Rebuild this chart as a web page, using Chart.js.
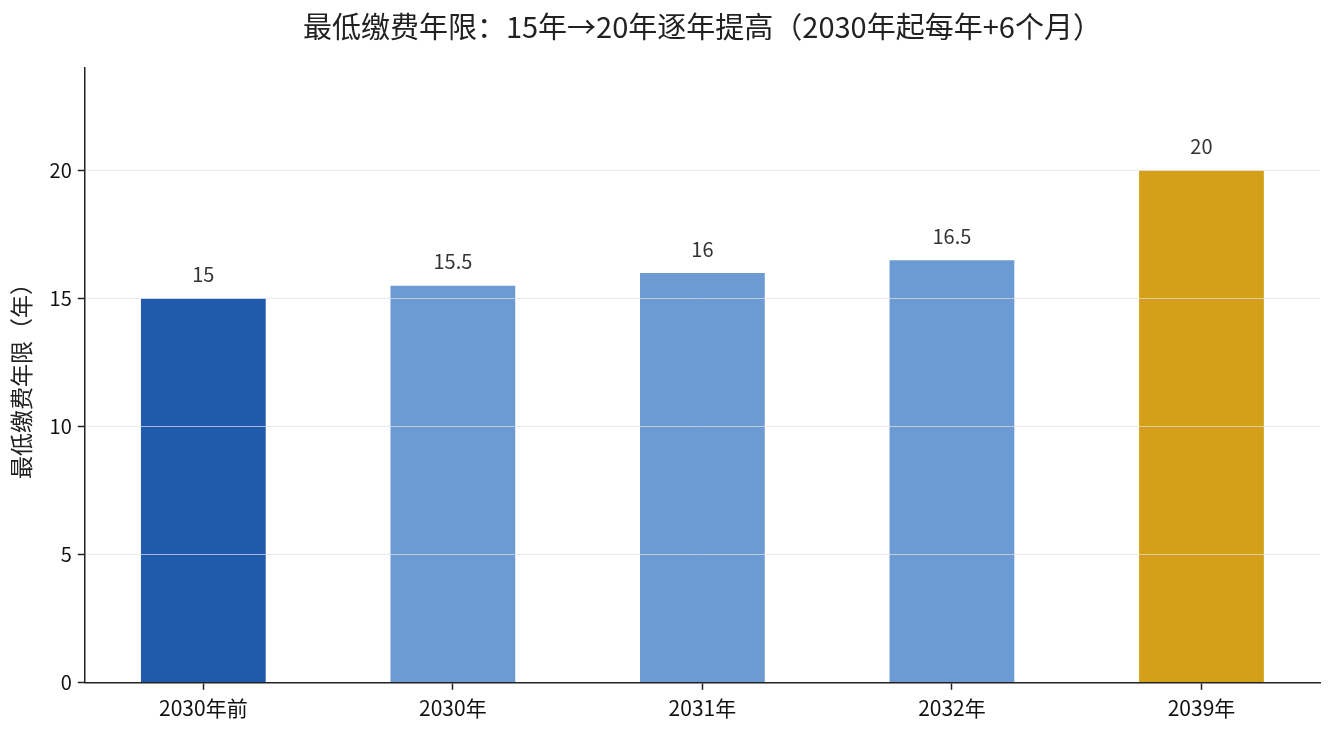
<!DOCTYPE html>
<html>
<head>
<meta charset="utf-8">
<script src="https://cdn.jsdelivr.net/npm/chart.js@4"></script>
<style>
html,body{margin:0;padding:0;background:#fff;}
#wrap{width:1335px;height:735px;}
</style>
</head>
<body>
<div id="wrap"><canvas id="c" width="1335" height="735"></canvas></div>
<script>
const categories = ['2030年前', '2030年', '2031年', '2032年', '2039年'];
const values = [15, 15.5, 16, 16.5, 20];
const barColors = ['#1f5aad', '#6b9bd2', '#6b9bd2', '#6b9bd2', '#d4a01a'];
const yTicks = [0, 5, 10, 15, 20];
const titleText = '最低缴费年限：15年→20年逐年提高（2030年起每年+6个月）';
const yTitle = '最低缴费年限（年）';

const FONT = "'Noto Sans CJK SC', 'Noto Sans', sans-serif";

const points = categories.map((c, i) => ({ x: i, y: values[i] }));

const valueLabels = {
  id: 'valueLabels',
  afterDatasetsDraw(chart) {
    const ctx = chart.ctx;
    const meta = chart.getDatasetMeta(0);
    ctx.save();
    ctx.font = '20px ' + FONT;
    ctx.fillStyle = '#333';
    ctx.textAlign = 'center';
    ctx.textBaseline = 'middle';
    meta.data.forEach((bar, i) => {
      ctx.fillText(String(values[i]), bar.x, bar.y - 24);
    });
    ctx.restore();
  }
};

// title centred over the plot area (like the reference)
const axesTitle = {
  id: 'axesTitle',
  afterDraw(chart) {
    const ctx = chart.ctx;
    const a = chart.chartArea;
    ctx.save();
    ctx.font = '29px ' + FONT;
    ctx.fillStyle = '#222';
    ctx.textAlign = 'center';
    ctx.textBaseline = 'middle';
    ctx.fillText(titleText, (a.left + a.right) / 2, a.top - 41);
    ctx.restore();
  }
};

new Chart(document.getElementById('c'), {
  type: 'bar',
  data: {
    datasets: [{
      data: points,
      backgroundColor: barColors,
      borderWidth: 0,
      categoryPercentage: 1.0,
      barPercentage: 0.5
    }]
  },
  options: {
    responsive: false,
    animation: false,
    layout: { padding: { left: 4, right: 15, top: 68, bottom: 8 } },
    plugins: {
      legend: { display: false },
      tooltip: { enabled: false },
      title: { display: false }
    },
    scales: {
      x: {
        type: 'linear',
        min: -0.475,
        max: categories.length - 1 + 0.475,
        offset: false,
        afterBuildTicks(scale) {
          scale.ticks = categories.map((c, i) => ({ value: i }));
        },
        grid: { display: true, drawOnChartArea: false, offset: false, drawTicks: true, tickLength: 7, tickColor: '#222', tickWidth: 1.5 },
        border: { display: true, color: '#222', width: 1.5, z: 2 },
        ticks: {
          color: '#111', font: { family: FONT, size: 21 }, padding: 6, autoSkip: false, maxRotation: 0,
          callback: (v) => categories[v]
        }
      },
      y: {
        min: 0,
        max: 24,
        afterBuildTicks(scale) {
          scale.ticks = yTicks.map(v => ({ value: v }));
        },
        grid: { z: 1, color: 'rgba(225,225,225,0.7)', lineWidth: 1, drawTicks: true, tickLength: 7, tickColor: '#222', tickWidth: 1.5 },
        border: { display: true, color: '#222', width: 1.5, z: 2 },
        ticks: { color: '#111', font: { family: FONT, size: 20 }, padding: 6 },
        title: {
          display: true,
          text: yTitle,
          color: '#222',
          font: { family: FONT, size: 23 },
          padding: { top: 3, bottom: 9 }
        }
      }
    }
  },
  plugins: [valueLabels, axesTitle]
});
</script>
</body>
</html>
